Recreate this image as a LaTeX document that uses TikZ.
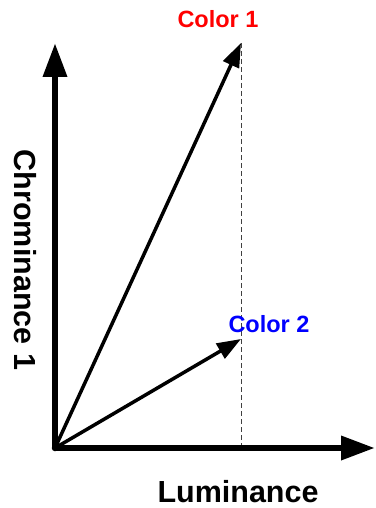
\documentclass[tikz,border=0pt]{standalone}
\usepackage{fontspec}
\setmainfont{Liberation Sans}
\usetikzlibrary{arrows.meta}

\begin{document}
\begin{tikzpicture}[x=1pt, y=-1pt, every node/.style={font=\bfseries},
    axis/.style={line width=6.5pt, -{Triangle[length=34pt,width=23pt]}},
    vec/.style={line width=3.5pt, -{Triangle[length=24pt,width=17pt]}}]
    \useasboundingbox (0,0) rectangle (375,508);

    % Points
    \coordinate (O) at (55,448);
    \coordinate (xend) at (375,448);
    \coordinate (yend) at (55,43);
    \coordinate (c1) at (241,43);
    \coordinate (c2) at (241,339);
    \coordinate (foot) at (241,448);

    % Dashed projection
    \draw[dash pattern=on 5pt off 3pt, line width=0.9pt, black!75] (c1) -- (foot);

    % Axes
    \draw[axis] (O) -- (xend);
    \draw[axis] (O) -- (yend);
    \fill (O) circle (3.25pt);

    % Color vectors
    \draw[vec] (O) -- (c1);
    \draw[vec] (O) -- (c2);

    % Labels
    \node[red, font=\fontsize{23.5}{27}\bfseries\selectfont] (lab1) at (218,19) {Color 1};
    \node[blue, font=\fontsize{23.5}{27}\bfseries\selectfont] (lab2) at (269,324) {Color 2};
    \node[font=\fontsize{30.5}{34}\bfseries\selectfont] (lum) at (238,492) {Luminance};
    \node[font=\fontsize{30.5}{34}\bfseries\selectfont, rotate=-90] (chr) at (25,260) {Chrominance 1};
\end{tikzpicture}
\end{document}
